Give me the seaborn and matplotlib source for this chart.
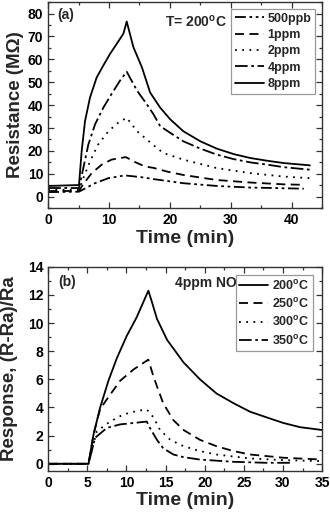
import numpy as np
import pandas as pd
import matplotlib
matplotlib.use("Agg")
import matplotlib.pyplot as plt
from matplotlib.ticker import MultipleLocator
import seaborn as sns

# ==========================================
# DATA panel (a): resistance vs time, T = 200 C
# ==========================================
t_500ppb = [0, 5.06, 7.7, 9.9, 12.6, 15.4, 17.3, 22.2, 27.7, 33.2, 38.7, 42]
r_500ppb = [2.0, 2.2, 5.9, 8.1, 9.3, 8.5, 7.7, 5.9, 4.7, 4.0, 3.7, 3.5]

t_1ppm = [0, 5.06, 5.77, 7.15, 8.8, 10.4, 12.75, 14.3, 15.9, 17.3, 19.5, 22.2, 27.7, 33.2, 38.7, 42]
r_1ppm = [2.5, 2.5, 5.5, 10.3, 14.0, 16.2, 17.3, 15.1, 13.2, 12.6, 11.0, 9.5, 7.3, 6.2, 5.4, 5.2]

t_2ppm = [0, 5.06, 5.77, 6.87, 8.2, 9.9, 11.5, 12.9, 14.6, 16.2, 17.3, 18.9, 22.2, 27.7, 33.2, 38.7, 43]
r_2ppm = [3.0, 3.0, 8.1, 15.4, 22.8, 28.6, 32.3, 34.5, 28.6, 25.0, 22.5, 19.1, 16.2, 12.5, 10.3, 8.8, 8.1]

t_4ppm = [0, 5.06, 5.77, 6.6, 7.7, 9.06, 10.4, 11.8, 12.9, 14.6, 16.2, 17.3, 18.4, 20.05,
          22.2, 25.0, 27.7, 30.5, 33.2, 36.0, 38.7, 43]
r_4ppm = [3.8, 3.8, 12.5, 22.8, 31.6, 38.9, 44.8, 50.7, 54.6, 46.3, 40.4, 36.0, 30.8, 27.9,
          24.2, 21.0, 18.4, 16.4, 15.0, 14.0, 12.9, 11.8]

t_8ppm = [0, 5.06, 5.5, 6.05, 6.87, 7.97, 9.06, 10.17, 11.27, 12.36, 12.9, 14.0, 15.4,
          16.75, 18.4, 20.05, 22.2, 25.0, 27.7, 30.5, 33.2, 36.0, 38.7, 43]
r_8ppm = [4.7, 5.1, 19.8, 33.0, 43.3, 52.1, 57.3, 62.4, 66.8, 71.2, 76.5, 65.3, 56.5,
          45.5, 38.9, 33.8, 28.6, 24.2, 21.0, 18.6, 16.9, 15.7, 14.7, 13.7]

conc_labels = ["500ppb", "1ppm", "2ppm", "4ppm", "8ppm"]

# ==========================================
# DATA panel (b): response vs time, 4 ppm NO
# ==========================================
t_200 = [0, 5.15, 5.8, 6.64, 7.7, 8.77, 10.05, 11.3, 12.8, 13.2, 13.9, 15.2, 17.3, 19.4,
         21.5, 23.7, 25.8, 27.9, 30.05, 32.2, 35]
s_200 = [0, 0, 2.1, 4.0, 5.9, 7.5, 9.1, 10.4, 12.3, 11.6, 10.3, 8.8, 7.2, 6.0,
         5.0, 4.3, 3.7, 3.3, 2.9, 2.6, 2.4]

t_250 = [0, 5.15, 5.8, 6.64, 7.9, 9.2, 10.9, 12.8, 13.4, 13.9, 14.7, 16.0, 17.3, 19.4,
         21.5, 23.7, 25.8, 30.05, 35]
s_250 = [0, 0, 2.1, 3.9, 4.9, 5.9, 6.7, 7.4, 6.3, 5.5, 4.3, 3.1, 2.4, 1.7,
         1.25, 0.9, 0.66, 0.43, 0.3]

t_300 = [0, 5.15, 6.2, 7.9, 9.6, 11.3, 12.6, 13.45, 14.3, 15.6, 17.3, 19.4, 21.5, 25.8, 30.05, 35]
s_300 = [0, 0, 2.3, 3.0, 3.5, 3.75, 3.86, 3.3, 2.4, 1.7, 1.25, 0.9, 0.66, 0.38, 0.26, 0.19]

t_350 = [0, 5.15, 6.0, 7.5, 9.2, 10.9, 12.6, 13.0, 13.9, 14.7, 16.0, 17.3, 19.4, 23.7, 27.9, 31.3]
s_350 = [0, 0, 1.85, 2.55, 2.8, 2.9, 3.0, 2.55, 1.7, 1.1, 0.66, 0.47, 0.3, 0.14, 0.07, 0.07]

temp_labels = ["200$^\\mathregular{o}$C", "250$^\\mathregular{o}$C",
               "300$^\\mathregular{o}$C", "350$^\\mathregular{o}$C"]

# long-form tables for seaborn
df_a = pd.concat([
    pd.DataFrame({"t": t, "v": v, "series": lab})
    for t, v, lab in zip([t_500ppb, t_1ppm, t_2ppm, t_4ppm, t_8ppm],
                         [r_500ppb, r_1ppm, r_2ppm, r_4ppm, r_8ppm],
                         conc_labels)
], ignore_index=True)

df_b = pd.concat([
    pd.DataFrame({"t": t, "v": v, "series": lab})
    for t, v, lab in zip([t_200, t_250, t_300, t_350],
                         [s_200, s_250, s_300, s_350],
                         temp_labels)
], ignore_index=True)

# ==========================================
# STYLE
# ==========================================
sns.set_style("ticks")
plt.rcParams["font.family"] = ["Liberation Sans", "DejaVu Sans"]
plt.rcParams["font.weight"] = "bold"
plt.rcParams["axes.labelweight"] = "bold"
plt.rcParams["mathtext.fontset"] = "custom"
plt.rcParams["mathtext.rm"] = "Liberation Sans:bold"
plt.rcParams["mathtext.default"] = "regular"
plt.rcParams["axes.linewidth"] = 1.0
plt.rcParams["axes.edgecolor"] = "#333333"

dashes_a = {
    "500ppb": (6, 2, 1.5, 2, 1.5, 2),
    "1ppm": (5, 3),
    "2ppm": (1, 3),
    "4ppm": (7, 2, 1.5, 2),
    "8ppm": "",
}
dashes_b = {
    temp_labels[0]: "",
    temp_labels[1]: (5, 3),
    temp_labels[2]: (1, 3),
    temp_labels[3]: (7, 2, 1.5, 2),
}

fig = plt.figure(figsize=(3.3, 5.14), dpi=100)
ax1 = fig.add_axes([0.146, 0.595, 0.83, 0.401])
ax2 = fig.add_axes([0.146, 0.084, 0.83, 0.397])

sns.lineplot(data=df_a, x="t", y="v", hue="series", style="series",
             hue_order=conc_labels, style_order=conc_labels,
             palette=["black"] * 5, dashes=dashes_a, sort=False,
             estimator=None, linewidth=1.3, ax=ax1)
sns.lineplot(data=df_b, x="t", y="v", hue="series", style="series",
             hue_order=temp_labels, style_order=temp_labels,
             palette=["black"] * 4, dashes=dashes_b, sort=False,
             estimator=None, linewidth=1.3, ax=ax2)


def style_axes(ax, xmaj, xmin, ymaj, ymin):
    ax.xaxis.set_major_locator(MultipleLocator(xmaj))
    ax.xaxis.set_minor_locator(MultipleLocator(xmin))
    ax.yaxis.set_major_locator(MultipleLocator(ymaj))
    ax.yaxis.set_minor_locator(MultipleLocator(ymin))
    ax.tick_params(which="both", direction="in", top=True, right=True,
                   labelsize=10, width=0.9, colors="#333333", labelcolor="black")
    ax.tick_params(which="major", length=4)
    ax.tick_params(which="minor", length=2)
    ax.set_xlabel("Time (min)", fontsize=14, labelpad=2)
    for lab in ax.get_xticklabels() + ax.get_yticklabels():
        lab.set_fontweight("bold")


ax1.set_xlim(0, 45)
ax1.set_ylim(-5, 85)
style_axes(ax1, 10, 5, 10, 5)
ax1.set_ylabel("Resistance (M\u03a9)", fontsize=13.5, labelpad=3)

ax2.set_xlim(0, 35)
ax2.set_ylim(-0.5, 14)
style_axes(ax2, 5, 2.5, 2, 1)
ax2.set_ylabel("Response, (R-Ra)/Ra", fontsize=13.5, labelpad=7)

ax1.text(0.033, 0.937, "(a)", transform=ax1.transAxes, fontsize=10,
         fontweight="bold", va="center")
ax1.text(0.427, 0.903, "T= 200$^\\mathregular{o}$C", transform=ax1.transAxes,
         fontsize=10, fontweight="bold", va="center")
ax2.text(0.036, 0.926, "(b)", transform=ax2.transAxes, fontsize=10,
         fontweight="bold", va="center")
ax2.text(0.464, 0.92, "4ppm NO", transform=ax2.transAxes, fontsize=10,
         fontweight="bold", va="center")

for ax, anchor in [(ax1, (0.975, 0.967)), (ax2, (0.967, 0.961))]:
    leg = ax.legend(loc="upper right", bbox_to_anchor=anchor, borderaxespad=0,
                    fancybox=False, framealpha=1, edgecolor="#999999",
                    fontsize=9, handlelength=2.3, handletextpad=0.3,
                    labelspacing=0.35, borderpad=0.3, title=None)
    leg.get_frame().set_linewidth(0.9)
    for txt in leg.get_texts():
        txt.set_fontweight("bold")

fig.savefig("out.png", dpi=100)
